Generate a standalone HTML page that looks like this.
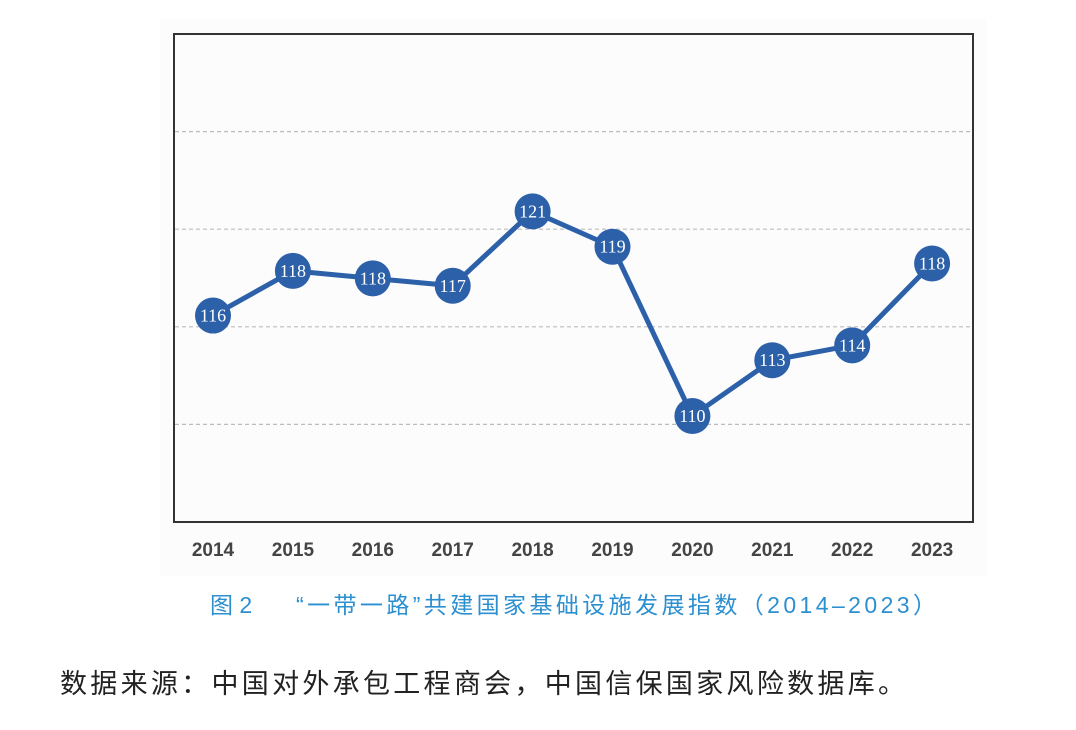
<!DOCTYPE html>
<html><head><meta charset="utf-8"><style>
body{margin:0;width:1076px;height:730px;background:#fff;overflow:hidden;font-family:"Liberation Sans","Noto Sans CJK SC",sans-serif;}
svg{position:absolute;left:0;top:0}
</style></head><body>
<svg width="1076" height="730">
<rect x="160" y="18" width="826" height="558" fill="#fcfcfc"/>
<g id="grid"></g>
<rect x="174" y="34" width="799" height="488" fill="none" stroke="#333" stroke-width="2"/>
<g id="marks"></g>
<g id="xt"></g>
<text x="210" y="613" font-size="23" fill="#2b8fd0" font-family="Liberation Sans,'Noto Sans CJK SC',sans-serif">图 2</text>
<text x="296" y="613" font-size="23" fill="#2b8fd0" textLength="640" lengthAdjust="spacing" font-family="Liberation Sans,'Noto Sans CJK SC',sans-serif">“一带一路”共建国家基础设施发展指数（2014–2023）</text>
<text x="60" y="693" font-size="27" fill="#222" textLength="845" lengthAdjust="spacing" font-family="Liberation Sans,'Noto Sans CJK SC',sans-serif">数据来源：中国对外承包工程商会，中国信保国家风险数据库。</text>
</svg>
<script>
const years=["2014","2015","2016","2017","2018","2019","2020","2021","2022","2023"];
const values=[115.4,117.8,117.4,117.0,121.0,119.1,110.0,113.0,113.8,118.2];
const labels=["116","118","118","117","121","119","110","113","114","118"];
const NS="http://www.w3.org/2000/svg";
const x=i=>213+i*79.9;
const y=v=>416-(v-110)*18.6;
function mk(t,a,p){const e=document.createElementNS(NS,t);for(const k in a)e.setAttribute(k,a[k]);p.appendChild(e);return e;}
const grid=document.getElementById('grid');
for(let k=1;k<5;k++){const gy=34+k*97.6;
const g=mk('line',{x1:175,x2:972,y1:gy,y2:gy,stroke:'#bbb','stroke-width':1.2,'stroke-dasharray':'4,3'},grid);

}
const m=document.getElementById('marks');
const pl=mk('polyline',{points:values.map((v,i)=>x(i)+','+y(v)).join(' '),fill:'none',stroke:'#2c60a8','stroke-width':5,'stroke-linejoin':'round'},m);


const xt=document.getElementById('xt');
values.forEach((v,i)=>{
const c=mk('circle',{cx:x(i),cy:y(v),r:18,fill:'#2c60a8'},m);


const t=mk('text',{x:x(i),y:y(v)+6,'text-anchor':'middle','font-size':18,fill:'#fff','font-family':'Liberation Serif,serif'},m);
t.textContent=labels[i];


const yl=mk('text',{x:x(i),y:556,'text-anchor':'middle','font-size':19,fill:'#444','font-weight':'bold'},xt);
yl.textContent=years[i];


});
</script>
</body></html>
